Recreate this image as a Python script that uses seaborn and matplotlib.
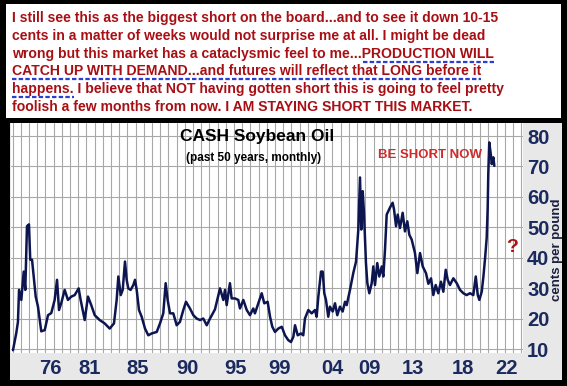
import matplotlib
matplotlib.use("Agg")
import matplotlib.pyplot as plt
import seaborn as sns
import pandas as pd
from matplotlib.patches import Rectangle
from matplotlib.lines import Line2D
from matplotlib.ticker import MultipleLocator, FixedLocator, NullLocator

# ---------------- data ----------------
years = [1972.10, 1972.43, 1972.60, 1972.71, 1972.94, 1973.18, 1973.34, 1973.51, 1973.71, 1973.84,
         1974.02, 1974.22, 1974.39, 1974.62, 1974.95, 1975.30, 1975.63, 1975.96, 1976.30, 1976.54,
         1976.74, 1976.97, 1977.31, 1977.64, 1977.98, 1978.32, 1978.72, 1978.92, 1979.33, 1979.66,
         1979.99, 1980.34, 1980.84, 1981.34, 1981.85, 1982.28, 1982.55, 1982.72, 1982.96, 1983.16,
         1983.39, 1983.56, 1983.72, 1983.96, 1984.23, 1984.40, 1984.57, 1984.80, 1985.07, 1985.41,
         1985.74, 1986.08, 1986.59, 1986.92, 1987.25, 1987.49, 1987.69, 1987.93, 1988.26, 1988.60,
         1988.93, 1989.27, 1989.54, 1989.94, 1990.28, 1990.62, 1990.95, 1991.28, 1991.63, 1991.96,
         1992.46, 1992.97, 1993.30, 1993.47, 1993.64, 1993.97, 1994.14, 1994.48, 1994.81, 1994.98,
         1995.32, 1995.66, 1995.99, 1996.32, 1996.49, 1996.83, 1997.17, 1997.43, 1997.77, 1998.01,
         1998.24, 1998.51, 1998.84, 1999.19, 1999.52, 1999.85, 2000.12, 2000.36, 2000.53, 2000.80,
         2001.13, 2001.36, 2001.53, 2001.87, 2002.21, 2002.54, 2002.71, 2002.88, 2003.15, 2003.32,
         2003.48, 2003.65, 2003.88, 2004.05, 2004.33, 2004.56, 2004.79, 2005.06, 2005.33, 2005.57,
         2005.74, 2006.07, 2006.40, 2006.68, 2006.91, 2007.08, 2007.21, 2007.35, 2007.48, 2007.68,
         2007.82, 2008.02, 2008.26, 2008.42, 2008.59, 2008.82, 2009.02, 2009.27, 2009.43, 2009.60,
         2009.77, 2010.10, 2010.37, 2010.51, 2010.71, 2010.88, 2011.11, 2011.38, 2011.61, 2011.85,
         2012.05, 2012.29, 2012.62, 2012.86, 2013.13, 2013.40, 2013.73, 2013.97, 2014.24, 2014.47,
         2014.71, 2014.97, 2015.24, 2015.48, 2015.72, 2015.92, 2016.15, 2016.49, 2016.83, 2017.16,
         2017.50, 2017.83, 2018.17, 2018.50, 2018.75, 2018.95, 2019.11, 2019.35, 2019.52, 2019.69,
         2019.85, 2019.95, 2020.01, 2020.11, 2020.26, 2020.36, 2020.52, 2020.62]
cents = [9.7, 15.3, 19.0, 29.5, 26.2, 35.5, 29.5, 50.4, 51.0, 39.4,
         39.4, 32.8, 27.3, 24.0, 15.9, 16.3, 21.2, 21.9, 26.2, 32.8,
         22.9, 25.2, 29.5, 26.2, 27.3, 27.8, 30.0, 26.2, 19.6, 27.3,
         24.5, 21.2, 19.6, 18.5, 16.8, 18.5, 26.2, 33.9, 27.8, 29.5,
         38.8, 32.8, 30.0, 29.5, 31.1, 32.8, 29.5, 22.9, 20.7, 16.8,
         14.6, 15.2, 15.7, 18.5, 21.8, 31.7, 26.2, 21.8, 21.8, 17.9,
         19.0, 22.9, 25.6, 23.4, 21.2, 20.1, 19.6, 20.1, 17.9, 20.1,
         23.1, 30.0, 26.2, 29.5, 24.5, 31.7, 26.7, 26.7, 26.2, 23.4,
         26.2, 22.9, 21.2, 23.4, 21.8, 25.1, 28.4, 25.1, 25.6, 20.7,
         17.4, 15.7, 16.8, 17.4, 14.6, 13.0, 12.4, 14.1, 17.9, 14.6,
         15.2, 14.6, 20.1, 22.9, 21.8, 22.9, 20.7, 27.3, 35.5, 35.5,
         28.4, 26.2, 20.7, 24.0, 22.4, 25.1, 21.2, 24.0, 22.4, 25.6,
         24.5, 29.5, 35.0, 38.8, 49.3, 66.4, 49.3, 61.9, 54.8, 38.3,
         31.7, 28.4, 31.7, 37.2, 31.1, 38.3, 33.9, 37.2, 33.9, 42.7,
         54.2, 56.5, 58.1, 55.9, 50.4, 54.2, 49.8, 54.8, 48.7, 52.0,
         47.6, 46.0, 41.6, 35.0, 41.6, 37.2, 35.0, 31.5, 33.3, 27.8,
         31.1, 28.4, 32.2, 28.9, 36.1, 32.8, 31.1, 33.3, 31.7, 29.5,
         28.4, 27.8, 28.4, 27.8, 33.9, 27.8, 26.2, 28.9, 33.9, 40.0,
         46.6, 56.5, 67.5, 77.9, 74.1, 70.8, 73.0, 70.2]

x_tick_pos = [1975.83, 1979.86, 1984.70, 1989.64, 1994.48, 1999.01,
              2004.26, 2007.99, 2012.42, 2017.46, 2021.80]
x_tick_labels = ["76", "81", "85", "90", "95", "99", "04", "09", "13", "18", "22"]
y_ticks = [10, 20, 30, 40, 50, 60, 70, 80]

text_lines = [
    "I still see this as the biggest short on the board...and to see it down 10-15",
    "cents in a matter of weeks would not surprise me at all. I might be dead",
    "wrong but this market has a cataclysmic feel to me...PRODUCTION WILL",
    "CATCH UP WITH DEMAND...and futures will reflect that LONG before it",
    "happens. I believe that NOT having gotten short this is going to feel pretty",
    "foolish a few months from now. I AM STAYING SHORT THIS MARKET.",
]
# (line index, prefix before underline, underlined text)
underlines = [
    (2, "wrong but this market has a cataclysmic feel to me...", "PRODUCTION WILL"),
    (3, "", "CATCH UP WITH DEMAND...and futures will reflect that LONG before it"),
    (4, "", "happens."),
]

# ---------------- figure ----------------
sns.set_theme(style="white")
plt.rcParams["font.family"] = ["Liberation Sans", "DejaVu Sans"]

W, H = 567, 386
fig = plt.figure(figsize=(W / 100, H / 100), dpi=100, facecolor="black")


def fx(px):
    return px / W


def fy(py):
    return 1 - py / H


# panels
fig.add_artist(Rectangle((fx(6), fy(118)), fx(561) - fx(6), fy(4) - fy(118),
                         transform=fig.transFigure, facecolor="white",
                         edgecolor="none", zorder=0))
fig.add_artist(Rectangle((fx(10), fy(380)), fx(562) - fx(10), fy(123) - fy(380),
                         transform=fig.transFigure, facecolor="#e8e8e8",
                         edgecolor="none", zorder=0))

# chart axes
ax = fig.add_axes([fx(11), fy(353), fx(523) - fx(11), fy(123) - fy(353)])
ax.set_facecolor("white")
df = pd.DataFrame({"year": years, "cents": cents})
sns.lineplot(data=df, x="year", y="cents", ax=ax, color="#0c1550",
             linewidth=1.8, zorder=3)

ax.set_xlim(1971.90, 2023.51)
ax.set_ylim(8.79, 84.27)
ax.xaxis.set_major_locator(FixedLocator(x_tick_pos))
ax.set_xticklabels(x_tick_labels)
ax.xaxis.set_minor_locator(MultipleLocator(0.8266, offset=1972.07))
ax.yaxis.set_major_locator(FixedLocator(y_ticks))
ax.yaxis.set_minor_locator(NullLocator())
ax.yaxis.tick_right()
ax.grid(False)
ax.grid(True, which="minor", axis="x", color="#a8a8a8", linewidth=0.8)
ax.grid(True, which="major", axis="y", color="#a8a8a8", linewidth=0.8)
ax.set_axisbelow(True)
for s in ax.spines.values():
    s.set_visible(False)
ax.set_xlabel("")
ax.set_ylabel("")
tick_color = "#1b2a5e"
ax.tick_params(axis="x", which="both", length=0, pad=4.5, labelsize=14.5,
               labelcolor=tick_color)
ax.tick_params(axis="y", which="both", length=0, pad=3, labelsize=14.5,
               labelcolor=tick_color, right=False, left=False)
for lab in ax.get_xticklabels() + ax.get_yticklabels():
    lab.set_fontweight("bold")

# chart texts
fig.text(fx(257), fy(137), "CASH Soybean Oil", ha="center", va="center",
         fontsize=12.5, fontweight="bold", color="black")
fig.text(fx(254), fy(158), "(past 50 years, monthly)", ha="center", va="center",
         fontsize=8.5, fontweight="bold", color="black")
fig.text(fx(430), fy(155), "BE SHORT NOW", ha="center", va="center",
         fontsize=9.5, fontweight="bold", color="#d42a2a")
fig.text(fx(512), fy(247), "?", ha="center", va="center",
         fontsize=14, fontweight="bold", color="#a51515")
fig.text(fx(557), fy(250), "cents per pound", ha="center", va="center",
         rotation=90, fontsize=9.5, fontweight="bold", color="#1a1f3d")

# top commentary text
text_color = "#a80f14"
renderer = fig.canvas.get_renderer()


def text_width(s, fs):
    if not s:
        return 0.0
    t = fig.text(0, 0, s, fontsize=fs, fontweight="bold")
    w = t.get_window_extent(renderer=renderer).width
    t.remove()
    return w


target_w = 487.0
fs = 10.0 * target_w / text_width(text_lines[0], 10.0)
x_left = 12
base0 = 22
step = 17.8
for i, line in enumerate(text_lines):
    fig.text(fx(x_left), fy(base0 + i * step), line, ha="left", va="baseline",
             fontsize=fs, fontweight="bold", color=text_color)

for idx, prefix, under in underlines:
    x0 = x_left + (text_width(prefix, fs) + 1 if prefix else 0)
    x1 = x_left + text_width(prefix + under, fs)
    yu = base0 + idx * step + 4
    fig.add_artist(Line2D([fx(x0), fx(x1)], [fy(yu), fy(yu)],
                          transform=fig.transFigure, color="#2a3fd0",
                          linewidth=1.6, linestyle=(0, (2.0, 1.0))))

fig.savefig("out.png", dpi=100, facecolor=fig.get_facecolor())
